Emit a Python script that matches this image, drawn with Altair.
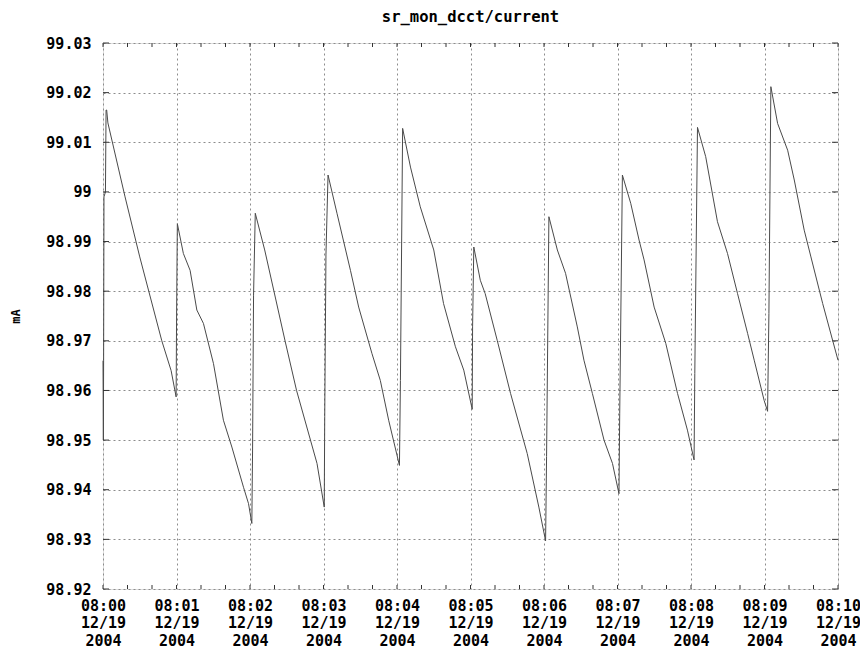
import altair as alt
import pandas as pd

# seconds after 08:00:00 on 12/19/2004
TIME_S = [0.0, 0.3, 0.5, 0.8, 2.0, 2.5, 3.0, 4.0, 18, 30, 48, 55.6, 59.7,
          60.1, 60.7, 65.6, 71.1, 76.6, 82, 90.2, 98.3, 105.2, 114.7, 118.8, 121.5,
          122.1, 122.9, 124.3, 132, 148.8, 158, 174.7, 180.6,
          181.0, 182.0, 183.7, 191, 202, 208.7, 219.6, 226.4, 233.2, 242,
          242.8, 244.6, 251, 259, 270, 278, 287.7, 294.5, 301.4,
          301.7, 302.7, 308, 312, 321.8, 332.7, 346.3, 355.8, 361.3,
          362.1, 364, 370.9, 377.6, 387.2, 392.6, 399.5, 409, 415.9, 421.2,
          421.8, 424, 430.8, 437.6, 441.7, 449.9, 459.4, 469, 477.1, 482.5,
          483.1, 485.3, 492, 501.6, 509.8, 518, 526.2, 531.6, 539.7, 542.5,
          543.6, 545.2, 550.7, 558.9, 564.3, 572.4, 577.9, 587.5, 595.6, 600]
CURRENT_MA = [98.966, 98.950, 98.966, 98.999, 99.000, 99.0165, 99.0165, 99.0139, 98.999, 98.9869, 98.970, 98.964, 98.9587,
              98.9762, 98.9936, 98.9876, 98.9842, 98.9762, 98.9735, 98.9654, 98.954, 98.9486, 98.9405, 98.9372, 98.9332,
              98.948, 98.9792, 98.9957, 98.9883, 98.9698, 98.960, 98.9453, 98.9365,
              98.9547, 98.9873, 99.0034, 98.9957, 98.9842, 98.9768, 98.9674, 98.962, 98.954, 98.9449,
              98.962, 99.0128, 99.005, 98.997, 98.9883, 98.9775, 98.9688, 98.9641, 98.9562,
              98.9728, 98.9889, 98.9822, 98.9795, 98.9701, 98.9594, 98.9473, 98.9365, 98.9297,
              98.9467, 98.995, 98.9883, 98.9836, 98.9728, 98.9661, 98.9594, 98.950, 98.9453, 98.9392,
              98.9553, 99.0034, 98.9977, 98.9903, 98.9863, 98.9768, 98.9695, 98.9594, 98.952, 98.946,
              98.9634, 99.013, 99.0071, 98.994, 98.9876, 98.9795, 98.9715, 98.9661, 98.958, 98.9558,
              98.9755, 99.0212, 99.0138, 99.0084, 99.0024, 98.9923, 98.9869, 98.9775, 98.9701, 98.9661]

X_MAJOR_S = [0, 60, 120, 180, 240, 300, 360, 420, 480, 540, 600]
X_MINOR_S = [0, 20, 40, 60, 80, 100, 120, 140, 160, 180, 200, 220, 240, 260, 280, 300,
             320, 340, 360, 380, 400, 420, 440, 460, 480, 500, 520, 540, 560, 580, 600]
Y_TICKS = [98.92, 98.93, 98.94, 98.95, 98.96, 98.97, 98.98, 98.99, 99.00, 99.01, 99.02, 99.03]

W, H = 735, 546
FONT = "DejaVu Sans Mono"

df = pd.DataFrame({"t": TIME_S, "v": CURRENT_MA})
xt = pd.DataFrame({"t": X_MINOR_S})
yt = pd.DataFrame({"v": Y_TICKS})

xscale = alt.Scale(domain=[0, 600], nice=False, zero=False)
yscale = alt.Scale(domain=[98.92, 99.03], nice=False, zero=False)

line = alt.Chart(df).mark_line(color="#4a4a4a", strokeWidth=1).encode(
    x=alt.X("t:Q", scale=xscale, title=None, axis=alt.Axis(
        values=X_MAJOR_S, grid=True, gridDash=[2, 3], gridColor="#8c8c8c", gridWidth=1,
        ticks=False, domain=False, labelFont=FONT, labelFontSize=15, labelFontWeight="bold",
        labelColor="#000", labelPadding=9, labelLineHeight=17.5, labelBaseline="top",
        labelFlush=False, labelOverlap=False,
        labelExpr='["08:" + (datum.value < 600 ? "0" : "") + format(datum.value / 60, "d"), "12/19", "2004"]')),
    y=alt.Y("v:Q", scale=yscale, title="mA", axis=alt.Axis(
        values=Y_TICKS, format=".4~r", grid=True, gridDash=[2, 3], gridColor="#8c8c8c", gridWidth=1,
        ticks=False, domain=False, labelFont=FONT, labelFontSize=15, labelFontWeight="bold",
        labelColor="#000", labelPadding=12, labelFlush=False, labelOverlap=False,
        titleFont=FONT, titleFontSize=12, titleFontWeight="bold", titleColor="#000", titlePadding=23)),
)

tick_color = "#333"
xb = alt.Chart(xt).mark_rule(color=tick_color, strokeWidth=1).encode(
    x=alt.X("t:Q", scale=xscale), y=alt.value(H), y2=alt.value(H - 4))
xtp = alt.Chart(xt).mark_rule(color=tick_color, strokeWidth=1).encode(
    x=alt.X("t:Q", scale=xscale), y=alt.value(0), y2=alt.value(4))
yl = alt.Chart(yt).mark_rule(color=tick_color, strokeWidth=1).encode(
    y=alt.Y("v:Q", scale=yscale), x=alt.value(0), x2=alt.value(6))
yr = alt.Chart(yt).mark_rule(color=tick_color, strokeWidth=1).encode(
    y=alt.Y("v:Q", scale=yscale), x=alt.value(W), x2=alt.value(W - 6))

chart = alt.layer(line, xb, xtp, yl, yr).properties(
    width=W, height=H,
    title=alt.TitleParams("sr_mon_dcct/current", font=FONT, fontSize=15.5, fontWeight="bold",
                          color="#000", anchor="middle", offset=11),
    autosize=alt.AutoSizeParams(type="none"),
    padding={"left": 95, "top": 35, "right": 22, "bottom": 60},
).configure_view(stroke="#333", strokeWidth=1.5).configure(background="white")

chart.save("out.html", embed_options={"renderer": "svg", "actions": False})
